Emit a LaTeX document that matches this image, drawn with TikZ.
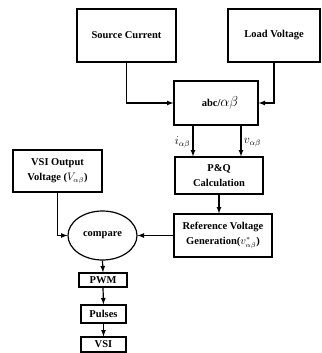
\documentclass[tikz,border=0pt]{standalone}
\usepackage{fontspec}
\setmainfont{Liberation Serif}
\usetikzlibrary{shapes.geometric}

\begin{document}
\begin{tikzpicture}[x=1pt, y=-1pt, box/.style={draw, line width=1.2pt, align=center, inner sep=1pt, font=\fontsize{10.5}{15}\selectfont\bfseries}, arrow/.style={-latex, line width=1.2pt}, lbl/.style={font=\fontsize{12}{14}\selectfont}] %mjere su u pikselima slike, y ide prema dolje

\useasboundingbox (0,0) rectangle (321,353);

%ulazi na vrhu
\node[box, minimum width=99pt, minimum height=53pt] (src) at (126.5,35.5) {Source Current};
\node[box, minimum width=92pt, minimum height=53pt] (load) at (274,35.5) {Load Voltage};

%transformacija i proracun snage
\node[box, minimum width=84pt, minimum height=44pt] (abc) at (216,103) {\hspace*{8pt}abc/{\fontsize{14}{14}\selectfont$\alpha\beta$}};
\node[box, minimum width=88pt, minimum height=37pt] (pq) at (219,175.5) {P\&Q\\Calculation};
\node[box, minimum width=98pt, minimum height=43pt] (ref) at (223,235.5) {Reference Voltage\\Generation($v^{*}_{\alpha\beta}$)};

%lijeva strana
\node[box, minimum width=89pt, minimum height=42pt] (vsiout) at (57.5,171) {VSI Output\\Voltage ($V_{\alpha\beta}$)};
\node[box, ellipse, minimum width=69pt, minimum height=49pt] (cmp) at (102.5,235.5) {compare};
\node[box, minimum width=48pt, minimum height=14pt] (pwm) at (103,280) {PWM};
\node[box, minimum width=45pt, minimum height=18pt] (pulses) at (103.5,314) {Pulses};
\node[box, minimum width=45pt, minimum height=15pt] (vsi) at (103.5,344.5) {VSI};

%strelice prema abc/alpha beta
\draw[arrow] (src.south) |- (abc.west);
\draw[arrow] (load.south) |- (abc.east);

%strelice prema P&Q
\draw[arrow] ([xshift=-23pt]abc.south) -- ([xshift=-26pt]pq.north) node[lbl, pos=0.55, left=-1pt] {$i_{\alpha\beta}$};
\draw[arrow] ([xshift=25pt]abc.south) -- ([xshift=22pt]pq.north) node[lbl, pos=0.55, right=-1pt] {$v_{\alpha\beta}$};

\draw[arrow] (pq.south) -- (pq.south |- ref.north);
\draw[arrow] (ref.west) -- (cmp.east);
\draw[arrow] (vsiout.south) |- (cmp.west);

%lanac prema VSI
\draw[arrow] (cmp.south) -- (pwm.north);
\draw[arrow] (pwm.south) -- (pulses.north);
\draw[arrow] (pulses.south) -- (vsi.north);

\end{tikzpicture}
\end{document}
